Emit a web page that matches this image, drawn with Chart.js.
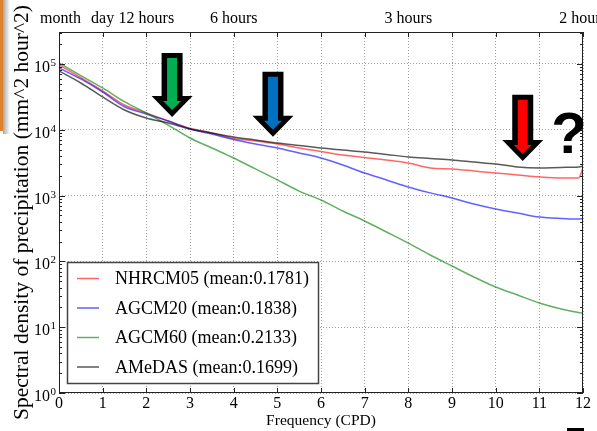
<!DOCTYPE html>
<html><head><meta charset="utf-8">
<script src="https://cdn.jsdelivr.net/npm/chart.js@4/dist/chart.umd.min.js"></script>
<style>html,body{margin:0;padding:0;background:#fff;} canvas{display:block;}</style>
</head><body>
<canvas id="c" width="597" height="431"></canvas>
<script>
// ---- data ----
const freq = [0,0.5,1,1.5,2,2.5,3,3.5,4,4.5,5,5.5,6,6.5,7,7.5,8,8.5,9,9.5,10,10.5,11,11.5,11.9,12];
const nhrcm05 = [96600,61900,38900,23800,18000,13600,10600,8940,7380,6760,6080,5290,4680,4140,3790,3480,3130,2630,2540,2370,2200,2060,1920,1850,1850,2630];
const agcm20  = [86900,59200,37500,22400,17400,13600,10300,8630,7120,6080,5290,4440,3730,2920,2200,1730,1350,1100,919,745,626,544,473,449,441,449];
const agcm60  = [103500,66400,43200,26700,18000,11800,7500,5290,3730,2540,1730,1170,857,583,411,280,190,125,85,58,40.8,30.9,23.3,18.9,16.7,16.4];
const amedas  = [78300,51400,31500,20000,15100,12700,10300,8940,7780,7000,6300,5770,5290,4930,4600,4220,3860,3660,3480,3240,3020,2720,2630,2680,2720,2800];
const seriesLabels = ['NHRCM05 (mean:0.1781)','AGCM20 (mean:0.1838)','AGCM60 (mean:0.2133)','AMeDAS (mean:0.1699)'];
const xTickValues = [0,1,2,3,4,5,6,7,8,9,10,11,12];
const topTickValues = [1/30,1,2,4,8,12];
const topTickLabels = ['month','day','12 hours','6 hours','3 hours','2 hours'];
const yDecades = [0,1,2,3,4,5];

// ---- styling ----
const serif = "'Liberation Serif','Times New Roman',serif";
const colors = ['rgba(255,0,0,0.6)','rgba(0,0,255,0.62)','rgba(0,128,0,0.62)','rgba(0,0,0,0.65)'];
const seriesData = [nhrcm05, agcm20, agcm60, amedas];
const gridColor = '#a0a0a0';

const datasets = seriesData.map((arr, k) => ({
  label: seriesLabels[k],
  data: freq.map((f, i) => ({x: f, y: arr[i]})),
  borderColor: colors[k],
  borderWidth: 1.5,
  pointRadius: 0,
  fill: false,
  cubicInterpolationMode: 'monotone',
  order: 3 - k
}));

const isDecade = v => v > 0 && Math.abs(Math.log10(v) - Math.round(Math.log10(v))) < 1e-9;

// annotation marks (positioned in data units)
const arrows = [
  {x: 2.59, tip: 1.56e4, top: 1.47e5, fill: '#00b050'},
  {x: 4.90, tip: 7.8e3,  top: 7.6e4,  fill: '#0070c0'},
  {x: 10.62, tip: 3.36e3, top: 3.4e4, fill: '#ff0000'}
];
const question = {x: 11.68, text: '?'};

const bgPlugin = {
  id: 'bg',
  beforeDraw(chart) {
    const c = chart.ctx;
    c.save(); c.fillStyle = '#fff'; c.fillRect(0, 0, chart.width, chart.height);
    const g = c.createLinearGradient(3, 0, 10, 0);
    g.addColorStop(0, 'rgba(0,0,0,0.35)'); g.addColorStop(1, 'rgba(0,0,0,0)');
    c.fillStyle = g; c.fillRect(3, 0, 7, 134);
    c.fillStyle = '#e0812b'; c.fillRect(0, 0, 3, 131);
    c.restore();
  }
};

function poly(c, pts) {
  c.beginPath(); c.moveTo(pts[0][0], pts[0][1]);
  for (let i = 1; i < pts.length; i++) c.lineTo(pts[i][0], pts[i][1]);
  c.closePath(); c.fill();
}

const decoPlugin = {
  id: 'deco',
  afterDraw(chart) {
    const c = chart.ctx, a = chart.chartArea;
    const xs = chart.scales.x, ys = chart.scales.y;
    c.save();
    // frame
    c.strokeStyle = '#222'; c.lineWidth = 1;
    c.strokeRect(a.left + 0.5, a.top + 0.5, a.right - a.left - 1, a.bottom - a.top - 1);
    // x ticks (inside, bottom and top)
    c.beginPath();
    xTickValues.forEach(v => {
      const px = Math.round(xs.getPixelForValue(v)) + 0.5;
      c.moveTo(px, a.bottom); c.lineTo(px, a.bottom - 5);
      c.moveTo(px, a.top); c.lineTo(px, a.top + 5);
    });
    // y ticks: majors and minors, both sides
    yDecades.forEach(d => {
      for (let m = 1; m <= 9; m++) {
        const v = m * Math.pow(10, d);
        if (v > ys.max) break;
        const py = Math.round(ys.getPixelForValue(v)) + 0.5;
        const len = m === 1 ? 6 : 3;
        c.moveTo(a.left, py); c.lineTo(a.left + len, py);
        c.moveTo(a.right, py); c.lineTo(a.right - len, py);
      }
    });
    c.stroke();
    // y tick labels 10^n
    c.fillStyle = '#000';
    yDecades.forEach(d => {
      const py = ys.getPixelForValue(Math.pow(10, d));
      c.font = '16px ' + serif; c.textAlign = 'right'; c.textBaseline = 'alphabetic';
      c.fillText('10', 50, py + 8);
      c.font = '11px ' + serif; c.textAlign = 'left';
      c.fillText(String(d), 50.5, py + 2);
    });
    // arrows
    arrows.forEach(ar => {
      const cx = xs.getPixelForValue(ar.x), tipY = ys.getPixelForValue(ar.tip), topY = ys.getPixelForValue(ar.top);
      const H = tipY - topY;
      c.save(); c.translate(cx, tipY);
      c.fillStyle = '#000';
      poly(c, [[-10.5,-H],[10.5,-H],[10.5,-21],[20.5,-21],[0,0],[-20.5,-21],[-10.5,-21]]);
      c.fillStyle = ar.fill;
      poly(c, [[-5,-H+5],[5,-H+5],[5,-16],[9,-16],[0,-7],[-9,-16],[-5,-16]]);
      c.restore();
    });
    // question mark
    c.fillStyle = '#000'; c.font = "bold 58px 'Liberation Sans',Arial,sans-serif";
    c.textAlign = 'center'; c.textBaseline = 'alphabetic';
    c.fillText(question.text, xs.getPixelForValue(question.x), 153);
    // legend
    const lx = 67, ly = 262, lw = 251, lh = 121;
    c.fillStyle = '#fff'; c.fillRect(lx, ly, lw, lh);
    c.strokeStyle = '#444'; c.lineWidth = 1.5; c.strokeRect(lx + 0.5, ly + 0.5, lw, lh);
    chart.data.datasets.forEach((ds, i) => {
      const ry = ly + 16.5 + i * 29.5;
      c.strokeStyle = ds.borderColor; c.lineWidth = 1.5;
      c.beginPath(); c.moveTo(77, ry); c.lineTo(99, ry); c.stroke();
      c.fillStyle = '#000'; c.font = '18px ' + serif; c.textAlign = 'left'; c.textBaseline = 'middle';
      c.fillText(ds.label, 115, ry + 1);
    });
    // small dash artifact bottom right
    c.fillStyle = '#000'; c.fillRect(567, 428, 17, 3);
    c.restore();
  }
};

new Chart(document.getElementById('c').getContext('2d'), {
  type: 'line',
  data: {datasets},
  options: {
    responsive: false, animation: false, devicePixelRatio: 1,
    layout: {padding: {left: 0, right: 14, top: 0, bottom: 0}},
    plugins: {legend: {display: false}, tooltip: {enabled: false}},
    scales: {
      x: {
        type: 'linear', position: 'bottom', min: 0, max: 12,
        afterBuildTicks: s => { s.ticks = xTickValues.map(v => ({value: v})); },
        ticks: {font: {family: serif, size: 16}, color: '#000', padding: 1, maxRotation: 0, autoSkip: false,
                callback: v => String(v)},
        grid: {color: gridColor, drawTicks: false, lineWidth: 1},
        border: {display: false, dash: [1, 2]},
        title: {display: true, text: 'Frequency (CPD)', font: {family: serif, size: 15.5}, color: '#000',
                padding: {top: 0, bottom: 1}},
        afterFit: s => { s.height = 38; s.paddingLeft = 0; s.paddingRight = 0; }
      },
      x2: {
        type: 'linear', position: 'top', min: 0, max: 12,
        afterBuildTicks: s => { s.ticks = topTickValues.map(v => ({value: v})); },
        ticks: {font: {family: serif, size: 16}, color: '#000', padding: 4, maxRotation: 0, autoSkip: false,
                callback: (v, i) => topTickLabels[i]},
        grid: {display: false, drawTicks: false},
        border: {display: false},
        afterFit: s => { s.height = 32; s.paddingLeft = 0; s.paddingRight = 0; }
      },
      y: {
        type: 'logarithmic', min: 1, max: 3.06e5,
        ticks: {display: false},
        grid: {color: c => (c.tick && isDecade(c.tick.value)) ? gridColor : 'rgba(0,0,0,0)', drawTicks: false},
        border: {display: false, dash: [1, 2]},
        title: {display: true, text: 'Spectral density of precipitation (mm^2 hour^2)',
                font: {family: serif, size: 21.5}, color: '#000', padding: {top: 9, bottom: 0}},
        afterFit: s => { s.width = 59; }
      }
    }
  },
  plugins: [bgPlugin, decoPlugin]
});
</script>
</body></html>
